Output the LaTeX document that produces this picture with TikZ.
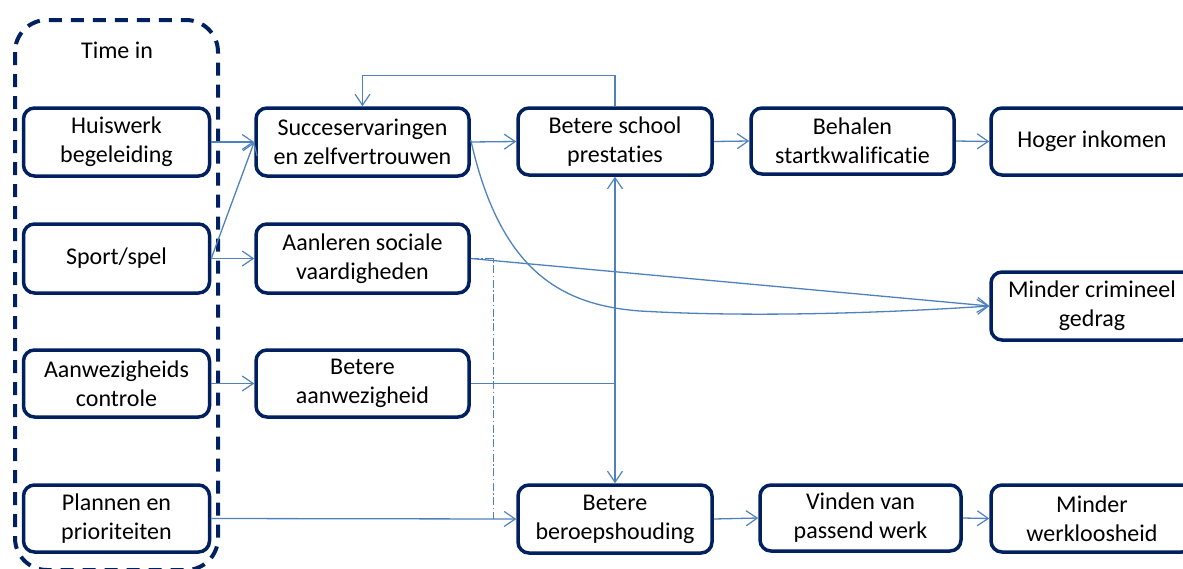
\documentclass[tikz,border=0pt]{standalone}
\usepackage{fontspec}
\setmainfont{Carlito}[Ligatures={NoCommon}]
\usetikzlibrary{arrows.meta}
\definecolor{navy}{RGB}{0,32,96}
\definecolor{lnk}{RGB}{79,129,189}
\begin{document}
\begin{tikzpicture}[x=1pt,y=-1pt,
 box/.style={draw=navy,line width=3.5pt,rounded corners=11pt,fill=white,align=center,inner sep=0pt,font=\fontsize{24}{29}\selectfont},
 link/.style={draw=lnk,line width=1.3pt,-{Straight Barb[length=11pt,width=15pt,line width=1.2pt]}},
 plain/.style={draw=lnk,line width=1.3pt},
 dashdot/.style={draw=lnk,line width=1pt,dash pattern=on 8pt off 2.5pt on 1.5pt off 2.5pt},
 group/.style={draw=navy,line width=4pt,dash pattern=on 13pt off 9pt,rounded corners=32pt}]
\useasboundingbox (0,0) rectangle (1183,568);
\clip (0,0) rectangle (1183,568);
\draw[group] (15,20) rectangle (218,570);
\node[font=\fontsize{24}{29}\selectfont] (timein) at (117,50) {Time in};
% column 1
\node[box,minimum width=186pt,minimum height=68pt] (huis) at (116.5,142) {Huiswerk\\begeleiding};
\node[box,minimum width=186pt,minimum height=69pt] (sport) at (116.5,258.5) {Sport/spel};
\node[box,minimum width=186pt,minimum height=67pt] (aanw) at (116.5,383.5) {Aanwezigheids\\controle};
\node[box,minimum width=186pt,minimum height=67pt] (plan) at (116.5,518.5) {Plannen en\\prioriteiten};
% column 2
\node[box,minimum width=213pt,minimum height=68pt] (succ) at (362.5,142) {Succeservaringen\\en zelfvertrouwen};
\node[box,minimum width=213pt,minimum height=69pt] (aanl) at (362.5,258.5) {Aanleren sociale\\vaardigheden};
\node[box,minimum width=213pt,minimum height=67pt] (betaan) at (362.5,383.5) {Betere\\aanwezigheid};
% column 3
\node[box,minimum width=194pt,minimum height=67pt] (school) at (615,141.5) {Betere school\\prestaties};
\node[box,minimum width=194pt,minimum height=68pt] (beroep) at (615,519) {Betere\\beroepshouding};
% column 4
\node[box,minimum width=203pt,minimum height=66pt] (behalen) at (852.5,141) {Behalen\\startkwalificatie};
\node[box,minimum width=201pt,minimum height=66pt] (vinden) at (860.5,518) {Vinden van\\passend werk};
% column 5
\node[box,minimum width=202pt,minimum height=67pt] (hoger) at (1092,141.5) {Hoger inkomen};
\node[box,minimum width=202pt,minimum height=68pt] (crim) at (1092,306) {Minder crimineel\\gedrag};
\node[box,minimum width=202pt,minimum height=67pt] (werk) at (1092,518.5) {Minder\\werkloosheid};
% connectors
\draw[link] (huis.east) -- (succ.west);
\draw[link] (sport.east) -- (succ.west);
\draw[link] (sport.east) -- (aanl.west);
\draw[link] (aanw.east) -- (betaan.west);
\draw[link] (plan.east) -- (beroep.west);
\draw[link] (succ.east) -- (school.west);
\draw[link] (school.north) -- ++(0,-31) -| (succ.north);
\coordinate (j) at (school.south |- betaan.east);
\draw[plain] (betaan.east) -- (j);
\draw[link] (j) -- (school.south);
\draw[link] (j) -- (beroep.north);
\draw[link] (aanl.east) -- (crim.west);
\draw[link] ([yshift=2pt]succ.east) .. controls (500,270) and (560,305) .. (640,311) .. controls (760,318) and (900,312) .. (crim.west);
\coordinate (dd1) at (493,258.5);
\coordinate (dd2) at (493,518.5);
\draw[dashdot] (aanl.east) -- (dd1) -- (dd2);
\draw[link] (school.east) -- (behalen.west);
\draw[link] (behalen.east) -- (hoger.west);
\draw[link] (beroep.east) -- (vinden.west);
\draw[link] (vinden.east) -- (werk.west);
\end{tikzpicture}
\end{document}
